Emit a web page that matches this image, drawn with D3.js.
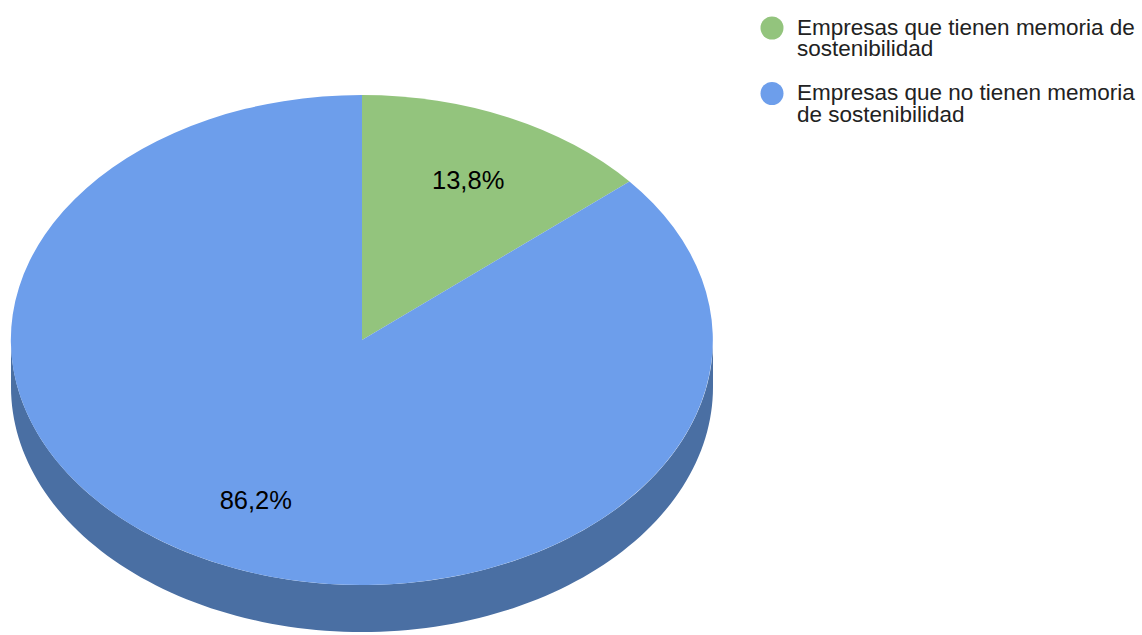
<!DOCTYPE html>
<html lang="es">
<head>
  <meta charset="UTF-8">
  <title>Memoria de sostenibilidad</title>
  <style>
    body { margin: 0; background: #fff; overflow: hidden; }
    svg { display: block; }
    text { font-family: Arial, "Liberation Sans", sans-serif; }
  </style>
</head>
<body>
  <svg width="1142" height="635"></svg>
  <script src="https://d3js.org/d3.v7.min.js"></script>
  <script>
    // data
    const categories = [
      ["Empresas que tienen memoria de", "sostenibilidad"],
      ["Empresas que no tienen memoria", "de sostenibilidad"]
    ];
    const values = [13.8, 86.2];
    const labels = ["13,8%", "86,2%"];
    const colors = ["#93c47d", "#6d9eeb"];
    const sideColors = ["#5f8a4e", "#4a6fa3"];

    const svg = d3.select("svg");
    const cx = 362, cy = 340, rx = 351, ry = 245, depth = 47;

    const pie = d3.pie().sort(null).value(d => d);
    const arcs = pie(values);

    // unit point at d3 angle (0 = top, clockwise)
    const pt = (a, r) => [cx + rx * r * Math.sin(a), cy - ry * r * Math.cos(a)];

    // side walls (only the front half, angles pi/2 .. 3pi/2)
    const gSide = svg.append("g");
    arcs.forEach((d, i) => {
      const a0 = Math.max(d.startAngle, Math.PI / 2);
      const a1 = Math.min(d.endAngle, 3 * Math.PI / 2);
      if (a1 <= a0) return;
      const n = 120;
      const top = d3.range(n + 1).map(k => pt(a0 + (a1 - a0) * k / n, 1));
      const bottom = top.map(p => [p[0], p[1] + depth]).reverse();
      gSide.append("path")
        .attr("d", d3.line()(top.concat(bottom)) + "Z")
        .attr("fill", sideColors[i]);
    });

    // top face
    const arc = d3.arc().innerRadius(0).outerRadius(1);
    const gTop = svg.append("g")
      .attr("transform", `translate(${cx},${cy}) scale(${rx},${ry})`);
    gTop.selectAll("path")
      .data(arcs)
      .join("path")
      .attr("d", arc)
      .attr("fill", (d, i) => colors[i]);

    // slice labels
    svg.selectAll("text.slice")
      .data(arcs)
      .join("text")
      .attr("class", "slice")
      .attr("x", d => pt((d.startAngle + d.endAngle) / 2, 0.72)[0])
      .attr("y", d => pt((d.startAngle + d.endAngle) / 2, 0.72)[1])
      .attr("dy", "0.36em")
      .attr("text-anchor", "middle")
      .attr("font-size", 25.5)
      .attr("fill", "#000")
      .text((d, i) => labels[i]);

    // legend
    const legend = svg.append("g");
    const item = legend.selectAll("g")
      .data(categories)
      .join("g")
      .attr("transform", (d, i) => `translate(772,${28 + i * 65.5})`);
    item.append("circle")
      .attr("r", 11.5)
      .attr("fill", (d, i) => colors[i]);
    item.each(function(lines) {
      const t = d3.select(this).append("text")
        .attr("font-size", 22.5)
        .attr("fill", "#222");
      lines.forEach((l, j) => {
        t.append("tspan").attr("x", 25).attr("y", 6.5 + j * 21.5).text(l);
      });
    });
  </script>
</body>
</html>
